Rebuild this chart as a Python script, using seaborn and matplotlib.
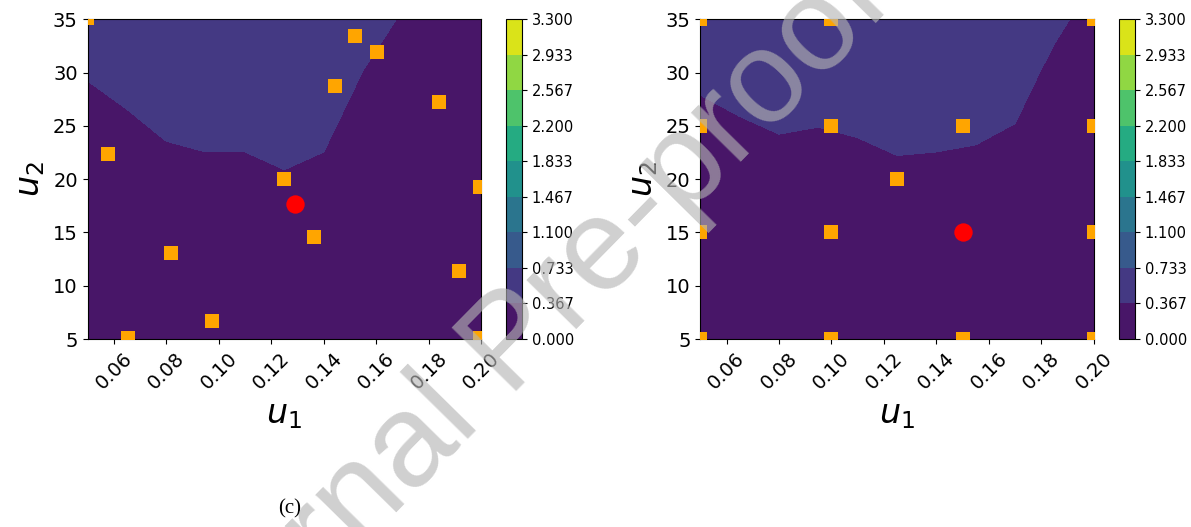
import numpy as np
import matplotlib
matplotlib.use("Agg")
import matplotlib.pyplot as plt
import seaborn as sns

u1_grid = [0.05, 0.065, 0.08, 0.095, 0.11, 0.125, 0.14, 0.155, 0.17, 0.185, 0.20]
u2_grid = [5, 10, 15, 20, 25, 30, 35]

# rows = u2 (5 -> 35), cols = u1 (0.05 -> 0.20)
z_left = [
    [0.05, 0.05, 0.05, 0.05, 0.05, 0.05, 0.05, 0.05, 0.05, 0.05, 0.05],
    [0.05, 0.05, 0.05, 0.05, 0.05, 0.05, 0.05, 0.05, 0.05, 0.05, 0.05],
    [0.05, 0.05, 0.11, 0.14, 0.14, 0.19, 0.13, 0.05, 0.05, 0.05, 0.05],
    [0.09, 0.17, 0.26, 0.29, 0.29, 0.34, 0.29, 0.05, 0.05, 0.05, 0.05],
    [0.24, 0.32, 0.41, 0.44, 0.44, 0.49, 0.44, 0.21, 0.05, 0.05, 0.05],
    [0.39, 0.47, 0.56, 0.59, 0.59, 0.64, 0.59, 0.36, 0.19, 0.10, 0.08],
    [0.54, 0.62, 0.70, 0.70, 0.70, 0.70, 0.70, 0.51, 0.34, 0.25, 0.20],
]
z_right = [
    [0.05, 0.05, 0.05, 0.05, 0.05, 0.05, 0.05, 0.05, 0.05, 0.05, 0.05],
    [0.05, 0.05, 0.05, 0.05, 0.05, 0.05, 0.05, 0.05, 0.05, 0.05, 0.05],
    [0.05, 0.05, 0.09, 0.07, 0.10, 0.15, 0.14, 0.12, 0.06, 0.05, 0.05],
    [0.13, 0.19, 0.24, 0.22, 0.25, 0.30, 0.29, 0.27, 0.21, 0.05, 0.05],
    [0.28, 0.34, 0.39, 0.37, 0.40, 0.45, 0.44, 0.42, 0.36, 0.13, 0.08],
    [0.43, 0.49, 0.54, 0.52, 0.55, 0.60, 0.59, 0.57, 0.51, 0.28, 0.15],
    [0.58, 0.64, 0.70, 0.67, 0.70, 0.70, 0.70, 0.70, 0.70, 0.44, 0.25],
]

# sample points (orange squares) and optimum (red dot)
left_u1 = [0.0497, 0.152, 0.1604, 0.1441, 0.1838, 0.0578, 0.1247, 0.1997,
           0.1364, 0.0817, 0.1917, 0.0973, 0.0656, 0.1995]
left_u2 = [35.1, 33.4, 31.9, 28.7, 27.2, 22.4, 20.05, 19.27,
           14.57, 13.04, 11.4, 6.72, 5.05, 5.05]
left_best_u1 = [0.1289]
left_best_u2 = [17.67]

right_u1 = [0.05, 0.10, 0.20, 0.05, 0.10, 0.15, 0.20, 0.125,
            0.05, 0.10, 0.20, 0.05, 0.10, 0.15, 0.20]
right_u2 = [35, 35, 35, 25, 25, 25, 25, 20,
            15, 15, 15, 5, 5, 5, 5]
right_best_u1 = [0.15]
right_best_u2 = [15]

levels = np.linspace(0, 3.3, 10)
xticks = [0.06, 0.08, 0.10, 0.12, 0.14, 0.16, 0.18, 0.20]
xtick_labels = ['0.06', '0.08', '0.10', '0.12', '0.14', '0.16', '0.18', '0.20']
yticks = [5, 10, 15, 20, 25, 30, 35]


def draw_panel(fig, ax_rect, cax_rect, z, pts_u1, pts_u2, best_u1, best_u2):
    ax = fig.add_axes(ax_rect)
    cs = ax.contourf(u1_grid, u2_grid, np.array(z), levels=levels, cmap='viridis')
    sns.scatterplot(x=pts_u1, y=pts_u2, marker='s', color='orange', s=112,
                    linewidth=0, ax=ax, zorder=3)
    sns.scatterplot(x=best_u1, y=best_u2, marker='o', color='red', s=175,
                    linewidth=0, ax=ax, zorder=4)
    ax.set_xlim(0.05, 0.20)
    ax.set_ylim(5, 35)
    ax.set_xticks(xticks)
    ax.set_xticklabels(xtick_labels, rotation=45)
    ax.set_yticks(yticks)
    ax.tick_params(labelsize=14)
    ax.set_xlabel('$u_1$', fontsize=24)
    ax.set_ylabel('$u_2$', fontsize=24)

    cax = fig.add_axes(cax_rect)
    cb = fig.colorbar(cs, cax=cax, ticks=levels, format='%.3f')
    cb.ax.tick_params(labelsize=10.5)
    return ax


fig = plt.figure(figsize=(11.91, 5.27), dpi=100)

draw_panel(fig, [0.0735, 0.3567, 0.3306, 0.6066], [0.4247, 0.3567, 0.01343, 0.6066],
           z_left, left_u1, left_u2, left_best_u1, left_best_u2)
draw_panel(fig, [0.5880, 0.3567, 0.3304, 0.6066], [0.9395, 0.3567, 0.01343, 0.6066],
           z_right, right_u1, right_u2, right_best_u1, right_best_u2)

fig.text(0.2435, 0.034, '(c)', fontsize=15, family='Liberation Serif',
         ha='center', va='center')

# journal watermark (runs off the figure edges on purpose, as in the source)
fig.text(0.430, 0.345, 'Journal Pre-proof', fontsize=95, family='Liberation Sans',
         color='#b4b4b4', alpha=0.63, rotation=45.5, rotation_mode='anchor',
         ha='center', va='center', zorder=10)

fig.savefig('out.png', dpi=100)
